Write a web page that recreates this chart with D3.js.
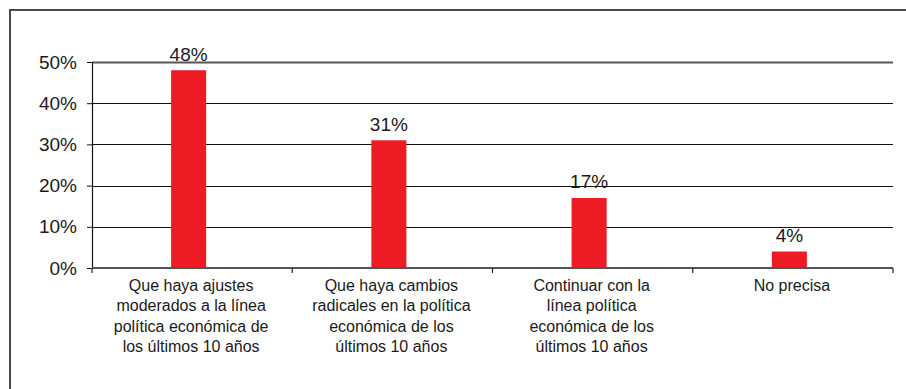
<!DOCTYPE html>
<html>
<head>
<meta charset="utf-8">
<script src="https://cdn.jsdelivr.net/npm/d3@7"></script>
<style>
  html, body { margin: 0; padding: 0; background: #fff; }
  svg { display: block; }
  text { font-family: "Liberation Sans Narrow", "Arial Narrow", "Liberation Sans", sans-serif; fill: #1a1a1a; }
</style>
</head>
<body>
<svg id="chart" width="906" height="389"></svg>
<script>
// Survey answers: preferred direction of economic policy
const categories = [
  ["Que haya ajustes", "moderados a la línea", "política económica de", "los últimos 10 años"],
  ["Que haya cambios", "radicales en la política", "económica de los", "últimos 10 años"],
  ["Continuar con la", "línea política", "económica de los", "últimos 10 años"],
  ["No precisa"]
];
const values = [48, 31, 17, 4];
const valueLabels = ["48%", "31%", "17%", "4%"];
const yTicks = [0, 10, 20, 30, 40, 50];
const yTickLabels = ["0%", "10%", "20%", "30%", "40%", "50%"];

const svg = d3.select("#chart");
const margin = { left: 92, right: 13, top: 62, bottom: 121 };
const W = 906, H = 389;
const plotW = W - margin.left - margin.right;
const plotH = H - margin.top - margin.bottom;

// outer frame (open on the right and bottom edges)
svg.append("path")
  .attr("d", `M10,${H} L10,10 L${W},10`)
  .attr("fill", "none")
  .attr("stroke", "#4a4a4a")
  .attr("stroke-width", 2);

const g = svg.append("g").attr("transform", `translate(${margin.left},${margin.top})`);

const x = d3.scaleBand()
  .domain(d3.range(categories.length))
  .range([0, plotW])
  .paddingInner(0.825)
  .paddingOuter(0.4125);

const y = d3.scaleLinear().domain([0, 50]).range([plotH, 0]);

// horizontal gridlines
g.append("g").selectAll("line")
  .data(yTicks.filter(t => t > 0))
  .join("line")
  .attr("x1", 0).attr("x2", plotW)
  .attr("y1", d => Math.round(y(d)) + 0.5).attr("y2", d => Math.round(y(d)) + 0.5)
  .attr("stroke", d => d === 50 ? "#555" : "#111")
  .attr("stroke-width", d => d === 50 ? 2 : 1);

// y axis with percent labels
const yAxis = d3.axisLeft(y)
  .tickValues(yTicks)
  .tickFormat((d, i) => yTickLabels[i])
  .tickSize(5)
  .tickPadding(10);
const yg = g.append("g").attr("class", "y-axis").call(yAxis);
yg.select(".domain").attr("stroke", "#111").attr("stroke-width", 1.2);
yg.selectAll(".tick line").attr("stroke", "#111");
yg.selectAll(".tick text")
  .attr("font-size", 19)
  .style("font-family", '"Liberation Sans Narrow", "Arial Narrow", sans-serif')
  .attr("fill", "#1a1a1a");

// bars
const barShift = -3.5;
g.append("g").selectAll("rect")
  .data(values)
  .join("rect")
  .attr("x", (d, i) => x(i) + barShift)
  .attr("y", d => y(d))
  .attr("width", x.bandwidth())
  .attr("height", d => plotH - y(d))
  .attr("fill", "#ed1c24");

// value labels above bars
g.append("g").selectAll("text")
  .data(values)
  .join("text")
  .attr("x", (d, i) => x(i) + barShift + x.bandwidth() / 2)
  .attr("y", d => y(d) - 9.5)
  .attr("text-anchor", "middle")
  .attr("font-size", 19)
  .text((d, i) => valueLabels[i]);

// x axis baseline and category separators
const step = x.step();
g.append("line")
  .attr("x1", 0).attr("x2", plotW)
  .attr("y1", plotH).attr("y2", plotH)
  .attr("stroke", "#555").attr("stroke-width", 2);
g.append("g").selectAll("line")
  .data(d3.range(categories.length + 1))
  .join("line")
  .attr("x1", i => i * step).attr("x2", i => i * step)
  .attr("y1", plotH).attr("y2", plotH + 5)
  .attr("stroke", "#222").attr("stroke-width", 1.2);

// wrapped category labels
const catG = g.append("g").selectAll("text")
  .data(categories)
  .join("text")
  .attr("text-anchor", "middle")
  .attr("font-size", 16)
  .attr("transform", (d, i) => `translate(${x(i) + x.bandwidth() / 2 - 1},${plotH + 23})`);
catG.selectAll("tspan")
  .data(d => d)
  .join("tspan")
  .attr("x", 0)
  .attr("dy", (d, i) => i === 0 ? 0 : 20.3)
  .text(d => d);
</script>
</body>
</html>
